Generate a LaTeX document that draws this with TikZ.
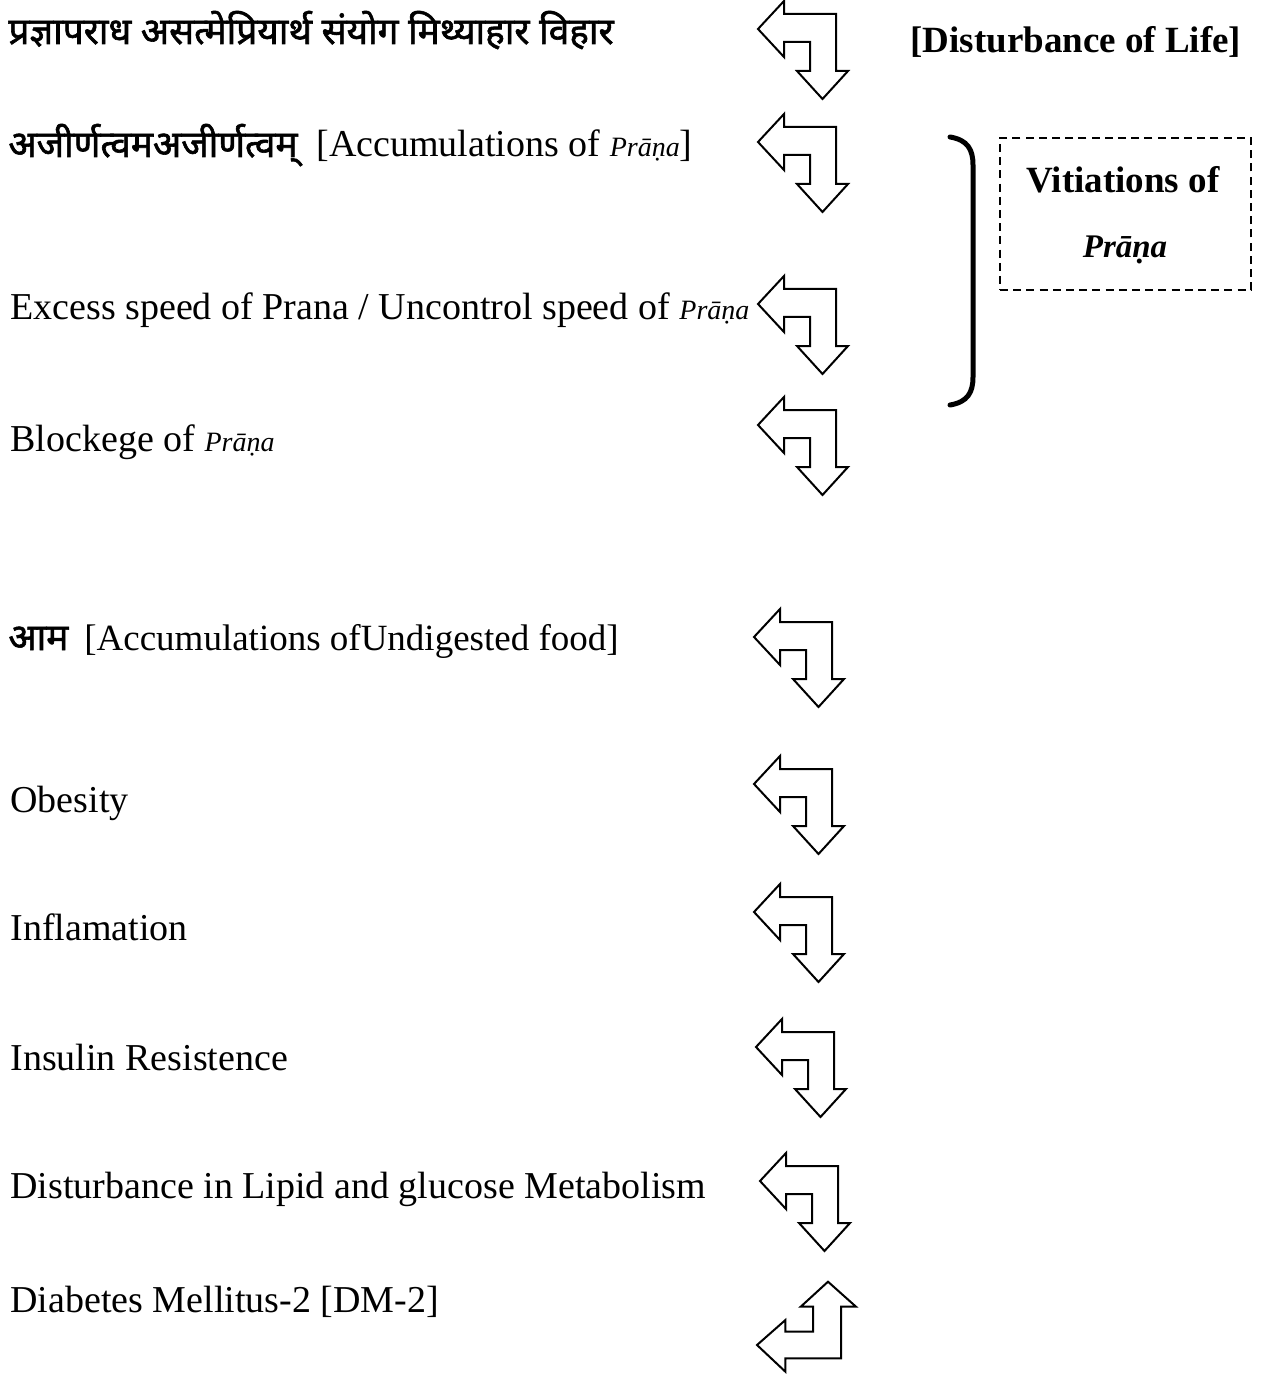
\documentclass[tikz,border=0pt]{standalone}
\usepackage{fontspec}
\setmainfont{Liberation Serif}
\newfontfamily\deva[Script=Devanagari,FakeBold=1.6]{Noto Sans}
\newcommand\bodysize{\fontsize{19}{22}\selectfont}
\newcommand\devasize{\fontsize{18.5}{22}\selectfont}
\newcommand\pranaword{{\fontsize{14}{17}\selectfont\itshape Prāṇa}}
\begin{document}
\begin{tikzpicture}[x=0.5pt,y=-0.5pt,
  label/.style={anchor=base west,inner sep=0pt,font=\bodysize},
  devalabel/.style={anchor=base west,inner sep=0pt,font=\deva\devasize},
  arrowline/.style={draw=black,line width=1pt,line join=miter,fill=white},
  turnarrow/.pic={\path[arrowline] (0,0) -- (26,-28) -- (26,-15) -- (78,-15) -- (78,42)
      -- (90,42) -- (64.5,70) -- (39,42) -- (52,42) -- (52,13) -- (26,13) -- (26,28) -- cycle;},
  returnarrow/.pic={\path[arrowline] (0,0) -- (28.4,-25) -- (28.4,-13.3) -- (56,-13.3) -- (56,-38.3)
      -- (43.7,-38.3) -- (71,-63.3) -- (99,-38.3) -- (84,-38.3) -- (84,13.3) -- (28.4,13.3)
      -- (28.4,26.7) -- cycle;}]
\useasboundingbox (0,0) rectangle (1268,1374);

% causal chain, top to bottom
\node[devalabel] (t1) at (8,44) {प्रज्ञापराध असत्मेप्रियार्थ संयोग मिथ्याहार विहार};
\node[label] (t2) at (8,157) {{\deva\devasize अजीर्णत्वमअजीर्णत्वम्}\ \ [Accumulations of \pranaword]};
\node[label] (t3) at (10,320) {Excess speed of Prana / Uncontrol speed of \pranaword};
\node[label] (t4) at (10,451) {Blockege of \pranaword};
\node[label] (t5) at (8,650) {{\deva\devasize आम}\hspace{8pt}{\fontsize{18.5}{22}\selectfont[Accumulations ofUndigested food]}};
\node[label] (t6) at (10,812) {Obesity};
\node[label] (t7) at (10,940) {Inflamation};
\node[label] (t8) at (10,1070) {Insulin Resistence};
\node[label] (t9) at (10,1198) {Disturbance in Lipid and glucose Metabolism};
\node[label] (t10) at (10,1312) {Diabetes Mellitus-2 [DM-2]};

% turn arrows beside each step
\pic (a1) at (758,29) {turnarrow};
\pic (a2) at (758,142) {turnarrow};
\pic (a3) at (758,304) {turnarrow};
\pic (a4) at (758,425) {turnarrow};
\pic (a5) at (754,637) {turnarrow};
\pic (a6) at (754,784) {turnarrow};
\pic (a7) at (754,912) {turnarrow};
\pic (a8) at (756,1047) {turnarrow};
\pic (a9) at (760,1181) {turnarrow};
\pic (a10) at (757,1345) {returnarrow};

% heading at the top right
\node[anchor=base west,inner sep=0pt,font=\bfseries\fontsize{18.5}{22}\selectfont] (life) at (910,53) {[Disturbance of Life]};

% bracket grouping the vitiations of prana
\coordinate (brtop) at (950,137);
\coordinate (brbot) at (950,405);
\draw[line width=2.5pt,line cap=round] (brtop) .. controls (968,140) and (973,150) .. (973,165)
  -- (973,377) .. controls (973,392) and (968,402) .. (brbot);

\node[draw,dashed,dash pattern=on 4pt off 2.6pt,line width=1pt,minimum width=125.5pt,minimum height=76pt,inner sep=0pt] (vit) at (1125.5,214) {};
\node[anchor=base,inner sep=0pt,font=\bfseries\fontsize{18.5}{22}\selectfont] (vit1) at (1123,193) {Vitiations of};
\node[anchor=base,inner sep=0pt,font=\bfseries\itshape\fontsize{16.5}{20}\selectfont] (vit2) at (1125,258) {Prāṇa};
\end{tikzpicture}
\end{document}
